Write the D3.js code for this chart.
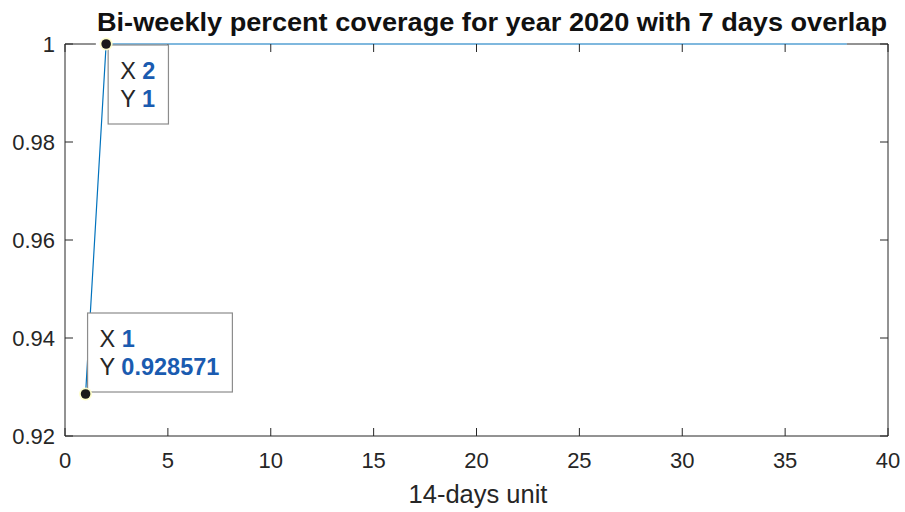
<!DOCTYPE html>
<html>
<head>
<meta charset="utf-8">
<script src="https://cdn.jsdelivr.net/npm/d3@7"></script>
<style>
  html, body { margin: 0; padding: 0; background: #fff; }
  svg { display: block; font-family: "Liberation Sans", Arial, Helvetica, sans-serif; }
</style>
</head>
<body>
<svg id="chart" width="905" height="512"></svg>
<script>
// Coverage per 14-day window (1..38)
const units = d3.range(1, 39);
const coverage = [0.928571].concat(d3.range(37).map(() => 1));
const xTicks = [0, 5, 10, 15, 20, 25, 30, 35, 40];
const yTicks = [0.92, 0.94, 0.96, 0.98, 1];
const yTickLabels = ["0.92", "0.94", "0.96", "0.98", "1"];
// Data tips shown on the curve (indices into the series)
const tipIndices = [1, 0];

const svg = d3.select("#chart");
const m = { left: 65, right: 888, top: 44, bottom: 436 };

const x = d3.scaleLinear().domain([0, 40]).range([m.left, m.right]);
const y = d3.scaleLinear().domain([0.92, 1]).range([m.bottom, m.top]);

const axisColor = "#262626";
const tickLen = 8;

// Series line
const line = d3.line().x((d, i) => x(units[i])).y(d => y(d));
svg.append("path")
  .datum(coverage)
  .attr("fill", "none")
  .attr("stroke", "#0072BD")
  .attr("stroke-width", 1.2)
  .attr("d", line);

// Box axes with inward ticks
const g = svg.append("g").attr("stroke", axisColor).attr("stroke-width", 1);
g.append("line").attr("x1", m.left).attr("x2", m.right).attr("y1", m.bottom).attr("y2", m.bottom);
g.append("line").attr("x1", m.left).attr("x2", m.left).attr("y1", m.top).attr("y2", m.bottom);
g.append("line").attr("x1", m.right).attr("x2", m.right).attr("y1", m.top).attr("y2", m.bottom);
g.append("line").attr("x1", x(38)).attr("x2", m.right).attr("y1", m.top).attr("y2", m.top);
g.append("line").attr("x1", m.left).attr("x2", x(1.5)).attr("y1", m.top).attr("y2", m.top);

xTicks.forEach(t => {
  g.append("line").attr("x1", x(t)).attr("x2", x(t)).attr("y1", m.bottom).attr("y2", m.bottom - tickLen);
  g.append("line").attr("x1", x(t)).attr("x2", x(t)).attr("y1", m.top).attr("y2", m.top + tickLen);
});
yTicks.forEach(t => {
  g.append("line").attr("x1", m.left).attr("x2", m.left + tickLen).attr("y1", y(t)).attr("y2", y(t));
  g.append("line").attr("x1", m.right).attr("x2", m.right - tickLen).attr("y1", y(t)).attr("y2", y(t));
});

// Tick labels
svg.append("g").selectAll("text").data(xTicks).join("text")
  .attr("x", d => x(d)).attr("y", m.bottom + 32)
  .attr("text-anchor", "middle").attr("font-size", 22).attr("fill", axisColor)
  .text(d => d);
svg.append("g").selectAll("text").data(yTicks).join("text")
  .attr("x", m.left - 10).attr("y", d => y(d) + 8)
  .attr("text-anchor", "end").attr("font-size", 22).attr("fill", axisColor)
  .text((d, i) => yTickLabels[i]);

// Axis label and title
svg.append("text").attr("x", 478).attr("y", 503)
  .attr("text-anchor", "middle").attr("font-size", 25.5).attr("fill", axisColor)
  .text("14-days unit");
svg.append("text").attr("x", 492).attr("y", 31)
  .attr("text-anchor", "middle").attr("font-size", 25).attr("font-weight", "bold").attr("fill", "#111")
  .attr("textLength", 790).attr("lengthAdjust", "spacingAndGlyphs")
  .text("Bi-weekly percent coverage for year 2020 with 7 days overlap");

// Data tips
const fmt = v => (Number.isInteger(v) ? String(v) : v.toFixed(6));
tipIndices.forEach(i => {
  const px = x(units[i]), py = y(coverage[i]);
  const xs = fmt(units[i]), ys = fmt(coverage[i]);
  const tip = svg.append("g");
  const box = tip.append("rect").attr("fill", "#fff").attr("stroke", "#8c8c8c").attr("stroke-width", 1.2);
  const t1 = tip.append("text").attr("font-size", 23.5).attr("fill", "#262626");
  t1.append("tspan").text("X ");
  t1.append("tspan").attr("fill", "#1a5bb0").attr("font-weight", "bold").text(xs);
  const t2 = tip.append("text").attr("font-size", 23.5).attr("fill", "#262626");
  t2.append("tspan").text("Y ");
  t2.append("tspan").attr("fill", "#1a5bb0").attr("font-weight", "bold").text(ys);
  const w = Math.max(t1.node().getComputedTextLength(), t2.node().getComputedTextLength()) + 25;
  const h = 79;
  const bx = px + 2;
  const by = i === 1 ? py + 1 : py - 2 - h;
  box.attr("x", bx).attr("y", by).attr("width", w).attr("height", h);
  t1.attr("x", bx + 12).attr("y", by + 34);
  t2.attr("x", bx + 12).attr("y", by + 62);
  // marker
  svg.append("circle").attr("cx", px).attr("cy", py).attr("r", 6.5).attr("fill", "#ffffc8").attr("opacity", 0.9);
  svg.append("circle").attr("cx", px).attr("cy", py).attr("r", 4.8).attr("fill", "#1a1a1a");
});
</script>
</body>
</html>
